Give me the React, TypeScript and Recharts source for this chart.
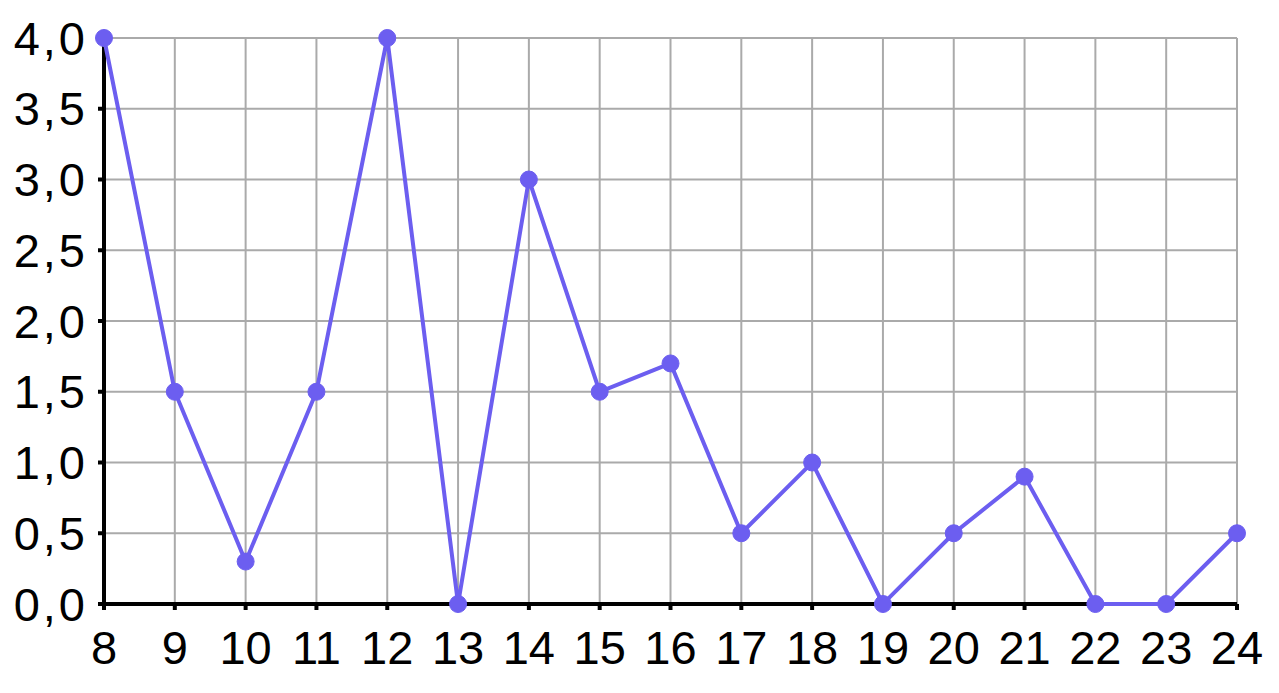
import React from 'react';
import { LineChart, Line, XAxis, YAxis, CartesianGrid, ReferenceLine } from 'recharts';

const hours = [8, 9, 10, 11, 12, 13, 14, 15, 16, 17, 18, 19, 20, 21, 22, 23, 24];
const values = [4, 1.5, 0.3, 1.5, 4, 0, 3, 1.5, 1.7, 0.5, 1, 0, 0.5, 0.9, 0, 0, 0.5];
const yTicks = [0, 0.5, 1, 1.5, 2, 2.5, 3, 3.5, 4];

const data = hours.map((h, i) => ({ h, v: values[i] }));

const fmt = (v: number) => v.toFixed(1).replace('.', ',');

export default function App() {
  const tickStyle = { fill: '#000', fontSize: 47, fontFamily: 'Liberation Sans, Arial, sans-serif' };
  return (
    <div style={{ position: 'absolute', left: 0, top: 0, background: '#fff' }}>
      <LineChart width={1279} height={693} data={data} margin={{ top: 38, right: 42, left: 0, bottom: 0 }}>
        <CartesianGrid stroke="#aaaaaa" strokeWidth={2} ticks={yTicks} />
        <XAxis
          dataKey="h"
          type="number"
          domain={[8, 24]}
          ticks={hours}
          interval={0}
          height={89}
          axisLine={false}
          tickLine={{ stroke: '#000', strokeWidth: 4 }}
          tickSize={6}
          tickMargin={21}
          tick={tickStyle}
        />
        <YAxis
          type="number"
          domain={[0, 4]}
          ticks={yTicks}
          interval={0}
          width={104}
          axisLine={false}
          tickLine={{ stroke: '#000', strokeWidth: 4 }}
          tickSize={6}
          tickMargin={10}
          tickFormatter={fmt}
          tick={{ ...tickStyle, letterSpacing: 3 }}
        />
        <ReferenceLine y={0} stroke="#000" strokeWidth={4} />
        <ReferenceLine x={8} stroke="#000" strokeWidth={4} />
        <Line
          dataKey="v"
          type="linear"
          stroke="#6c5ef0"
          strokeWidth={4}
          dot={{ r: 8.5, fill: '#6c5ef0', stroke: '#6c5ef0', strokeWidth: 1 }}
          isAnimationActive={false}
        />
      </LineChart>
    </div>
  );
}
